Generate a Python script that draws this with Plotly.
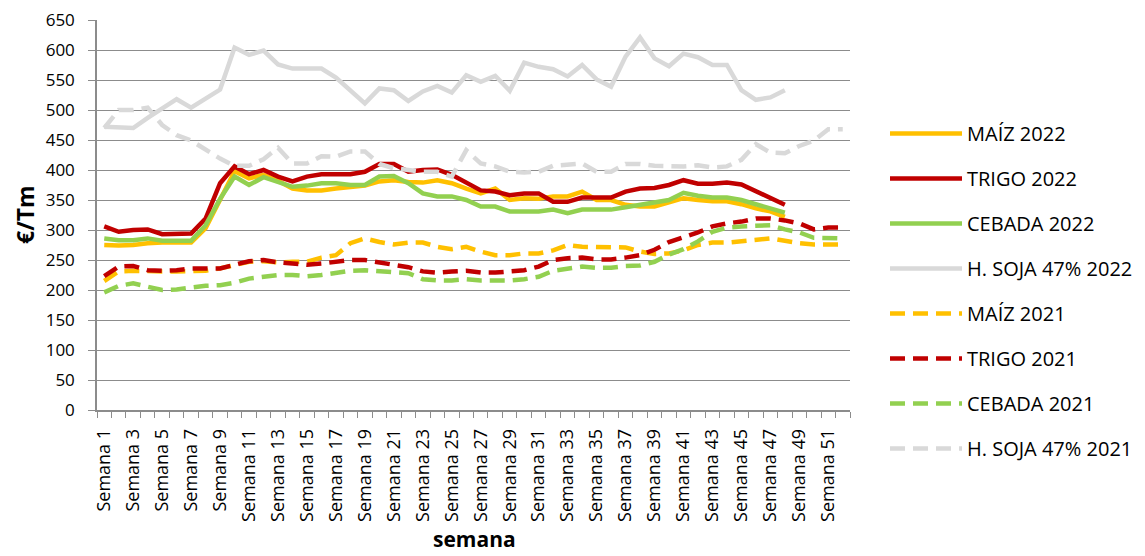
import plotly.graph_objects as go

weeks = [f"Semana {i}" for i in range(1, 53)]
tick_labels = [w if (i % 2 == 0) else "" for i, w in enumerate(weeks)]

maiz_2022 = [275, 274, 275, 278, 279, 279, 279, 303, 350, 398, 386, 392, 382, 369, 366, 366, 369, 372, 374, 381,
             383, 380, 379, 383, 378, 369, 361, 369, 350, 353, 352, 356, 356, 364, 350, 350, 342, 339, 339, 346,
             353, 350, 348, 348, 343, 336, 331, 322]
trigo_2022 = [306, 297, 300, 301, 293, 294, 294, 319, 378, 406, 393, 400, 389, 381, 389, 393, 393, 393, 397, 410,
              410, 397, 400, 401, 392, 379, 366, 364, 358, 361, 361, 347, 347, 354, 354, 354, 364, 369, 370, 375,
              383, 377, 377, 379, 376, 364, 353, 342]
cebada_2022 = [286, 283, 283, 286, 282, 282, 282, 308, 352, 389, 375, 388, 379, 372, 374, 378, 378, 375, 375, 389,
               390, 378, 361, 356, 356, 350, 339, 339, 331, 331, 331, 334, 328, 334, 334, 334, 338, 342, 346, 350,
               362, 357, 354, 354, 350, 343, 336, 329]
soja_2022 = [472, 471, 470, 487, 503, 518, 504, 519, 534, 604, 592, 599, 576, 569, 569, 569, 554, 533, 511, 536,
             533, 515, 531, 540, 529, 558, 547, 557, 532, 579, 572, 568, 556, 575, 551, 539, 589, 621, 586, 573,
             594, 588, 575, 575, 533, 517, 521, 533]
maiz_2021 = [215, 231, 232, 231, 231, 231, 232, 232, 236, 242, 247, 248, 246, 247, 247, 254, 258, 278, 286, 280,
             276, 279, 279, 272, 268, 272, 264, 258, 258, 261, 261, 266, 275, 272, 272, 272, 271, 264, 260, 261,
             266, 275, 279, 279, 281, 284, 286, 282, 278, 276, 276, 276]
trigo_2021 = [223, 239, 240, 233, 232, 233, 236, 236, 236, 242, 248, 250, 246, 244, 242, 244, 247, 250, 250, 246,
              242, 238, 231, 229, 231, 232, 229, 229, 231, 233, 239, 250, 253, 254, 251, 251, 254, 258, 267, 280,
              288, 296, 306, 311, 314, 319, 319, 316, 311, 301, 304, 304]
cebada_2021 = [196, 207, 211, 206, 200, 201, 204, 207, 208, 212, 219, 222, 225, 225, 223, 225, 228, 232, 233, 231,
               229, 228, 218, 216, 216, 218, 216, 216, 216, 218, 222, 232, 236, 239, 237, 237, 240, 241, 247, 259,
               268, 281, 297, 304, 306, 307, 308, 301, 296, 287, 286, 286]
soja_2021 = [470, 500, 500, 504, 475, 458, 449, 433, 419, 407, 407, 418, 437, 411, 411, 423, 422, 431, 431, 410,
             403, 400, 397, 397, 389, 433, 411, 406, 397, 396, 397, 407, 409, 411, 397, 397, 410, 410, 407, 407,
             406, 408, 404, 406, 417, 443, 429, 428, 440, 449, 468, 468]

series = [
    ("MAÍZ 2022", maiz_2022, "#FFC000", "solid"),
    ("TRIGO 2022", trigo_2022, "#C00000", "solid"),
    ("CEBADA 2022", cebada_2022, "#92D050", "solid"),
    ("H. SOJA 47% 2022", soja_2022, "#D9D9D9", "solid"),
    ("MAÍZ 2021", maiz_2021, "#FFC000", "15px,8px"),
    ("TRIGO 2021", trigo_2021, "#C00000", "15px,8px"),
    ("CEBADA 2021", cebada_2021, "#92D050", "15px,8px"),
    ("H. SOJA 47% 2021", soja_2021, "#D9D9D9", "15px,8px"),
]

fig = go.Figure()
for i, (name, vals, color, dash) in enumerate(series):
    fig.add_trace(go.Scatter(
        x=weeks[:len(vals)], y=vals, name=name, mode="lines",
        line=dict(color=color, width=4.5, dash=dash),
        legendgroup=f"g{i}",
    ))

grid = "#8C8C8C"
font = "Open Sans, Noto Sans, sans-serif"

# page body has an 8px margin; compensate so the plot lands where the reference has it
OFF = 8
PW, PH = 753, 390
L, T = 97 - OFF, 20 - OFF
R = 1145 - L - PW
B = 556 - T - PH


def px2paper(px, py):
    # px, py are screen coordinates of the reference
    return (px - OFF - L) / PW, 1 - (py - OFF - T) / PH


lgx, lgy = px2paper(885, 114)

fig.update_layout(
    width=1145, height=556,
    margin=dict(l=L, r=R, t=T, b=B, autoexpand=False),
    paper_bgcolor="white", plot_bgcolor="white",
    font=dict(family=font, color="#000000", size=17),
    showlegend=True,
    legend=dict(
        x=lgx, y=lgy, xanchor="left", yanchor="top",
        font=dict(size=20, family=font, color="#000000"),
        traceorder="grouped", tracegroupgap=16,
        itemwidth=72, bgcolor="rgba(0,0,0,0)",
    ),
    xaxis=dict(
        type="category", categoryorder="array", categoryarray=weeks,
        tickmode="array", tickvals=weeks, ticktext=tick_labels,
        tickangle=-90, ticks="outside", ticklen=6, tickwidth=1.3, tickcolor=grid,
        tickson="boundaries", showgrid=False, automargin=False,
        showline=True, linecolor=grid, linewidth=1.5,
        range=[-0.5, 51.5], tickfont=dict(size=18, family=font),
        zeroline=False, ticklabelstandoff=10, ticklabeloverflow="allow",
    ),
    yaxis=dict(
        range=[0, 650], dtick=50, tick0=0, automargin=False,
        ticks="outside", ticklen=7, tickwidth=1.3, tickcolor=grid,
        showgrid=True, gridcolor=grid, gridwidth=1.3,
        showline=True, linecolor=grid, linewidth=1.5,
        zeroline=False, tickfont=dict(size=17, family=font),
        ticklabelstandoff=10, ticklabeloverflow="allow",
    ),
)

ax, ay = px2paper(25, 215)
bx, by = px2paper(474, 539)
fig.add_annotation(text="<b>€/Tm</b>", x=ax, y=ay, xref="paper", yref="paper",
                   xanchor="center", yanchor="middle",
                   showarrow=False, textangle=-90, font=dict(size=23, family=font))
fig.add_annotation(text="<b>semana</b>", x=bx, y=by, xref="paper", yref="paper",
                   xanchor="center", yanchor="middle",
                   showarrow=False, font=dict(size=21, family=font))

fig.write_html("out.html")
